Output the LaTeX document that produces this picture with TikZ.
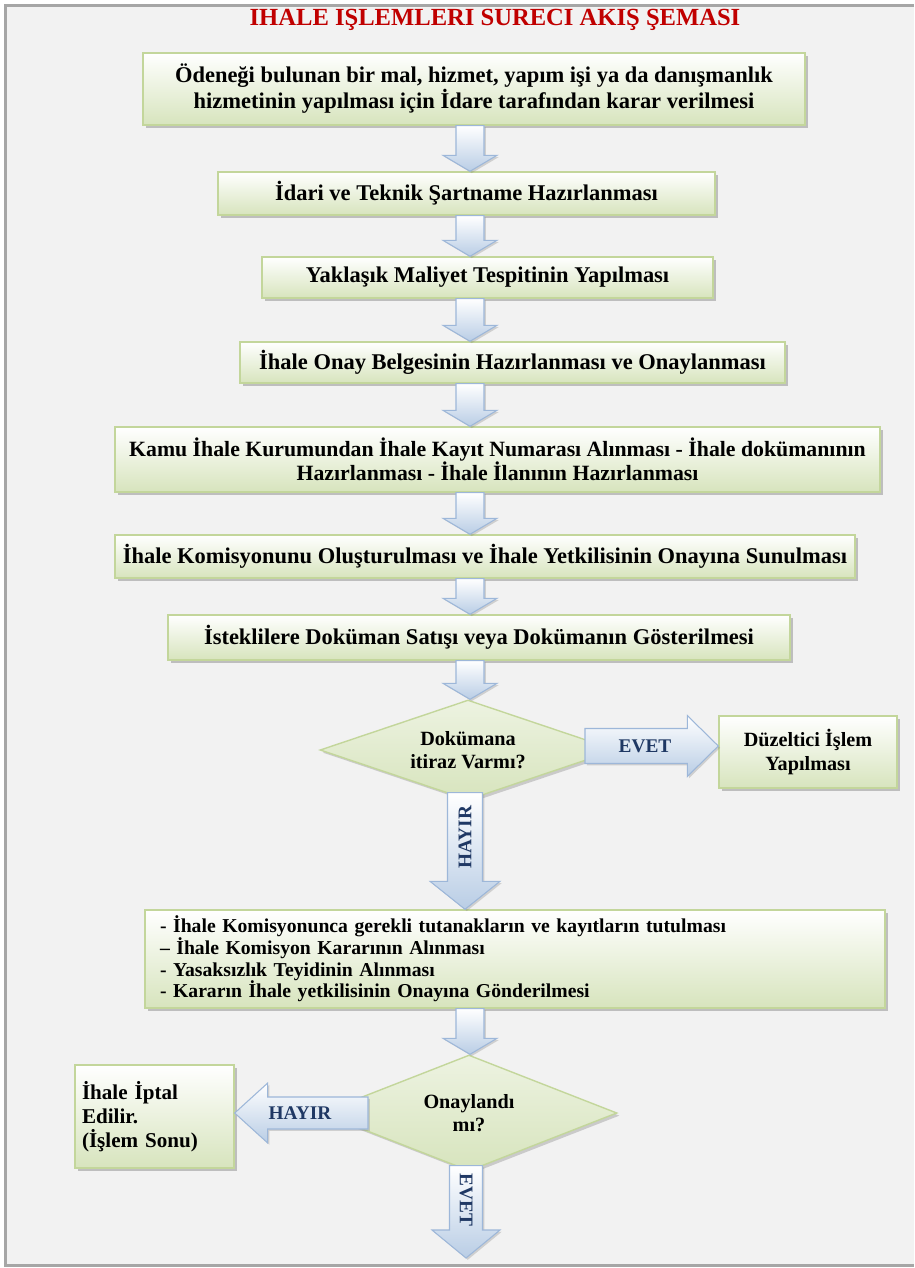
\documentclass[tikz,border=0pt]{standalone}
\usepackage{fontspec}
\setmainfont{Liberation Serif}
\usepackage{tikz}
\usepackage{color}
\usetikzlibrary{calc,shapes.geometric,shadows}

\definecolor{pagegray}{HTML}{F2F2F2}
\definecolor{framegray}{HTML}{A6A6A6}
\definecolor{boxgreen}{HTML}{D7E4BD}
\definecolor{boxline}{HTML}{C3D69B}
\definecolor{arrowblue}{HTML}{B9CDE5}
\definecolor{arrowline}{HTML}{9DB7D9}
\definecolor{titlered}{HTML}{C00000}
\definecolor{labelblue}{HTML}{1F3864}

\newcommand{\px}{0.02cm}
% block arrow downwards: tail, tip, body half width, head half width, head length
\newcommand{\tikzBlockDown}[5]{
  \path[blockarrow] ($(#1)+(-#3,0)$) -- ($(#2)+(-#3,#5)$) -- ($(#2)+(-#4,#5)$) -- (#2)
    -- ($(#2)+(#4,#5)$) -- ($(#2)+(#3,#5)$) -- ($(#1)+(#3,0)$) -- cycle;
}
% block arrow sideways: tail, tip, body half height, head half height, head length (negative = to the right)
\newcommand{\tikzBlockSide}[5]{
  \path[blockarrow] ($(#1)+(0,#3)$) -- ($(#2)+(#5,#3)$) -- ($(#2)+(#5,#4)$) -- (#2)
    -- ($(#2)+(#5,-#4)$) -- ($(#2)+(#5,-#3)$) -- ($(#1)+(0,-#3)$) -- cycle;
}

\begin{document}
\begin{tikzpicture}[x=\px, y=\px,
  proc/.style={rectangle, draw=boxline, line width=0.8pt, top color=white, bottom color=boxgreen,
    drop shadow={shadow xshift=1.5pt, shadow yshift=-1.5pt, opacity=0.45},
    font=\bfseries\fontsize{12.8}{13.5}\selectfont, align=center, inner sep=0pt},
  decision/.style={diamond, draw=boxline, line width=0.8pt, top color=boxgreen!45, bottom color=boxgreen,
    drop shadow={shadow xshift=1.5pt, shadow yshift=-1.5pt, opacity=0.35},
    font=\bfseries\fontsize{11.5}{13.5}\selectfont, align=center, inner sep=0pt, shape aspect=3},
  blockarrow/.style={draw=arrowline, line width=0.6pt, top color=white, bottom color=arrowblue,
    drop shadow={shadow xshift=1pt, shadow yshift=-1pt, opacity=0.3}},
  arrowtext/.style={font=\bfseries\fontsize{11}{12}\selectfont, text=labelblue, inner sep=0pt}]
  \useasboundingbox (0,0) rectangle (914,-1268);
  \fill[white] (0,0) rectangle (914,-1268);
  \fill[pagegray] (5,-5) rectangle (914,-1265);
  \draw[framegray, line width=3*\px] (914,-5) -- (5,-5) -- (5,-1265) -- (914,-1265);

  \node[font=\bfseries\fontsize{14}{16}\selectfont, text=titlered] (title) at (495,-20) {IHALE IŞLEMLERI SURECI AKIŞ ŞEMASI};
  \coordinate (spine) at (470,0);

  %main steps
  \node[proc, minimum width=662*\px, minimum height=72*\px] (b1) at (474,-89) {Ödeneği bulunan bir mal, hizmet, yapım işi ya da danışmanlık\\hizmetinin yapılması için İdare tarafından karar verilmesi};
  \node[proc, minimum width=497*\px, minimum height=43*\px] (b2) at (466.5,-193.5) {İdari ve Teknik Şartname Hazırlanması};
  \node[proc, minimum width=451*\px, minimum height=41*\px] (b3) at (487.5,-277.5) {Yaklaşık Maliyet Tespitinin Yapılması};
  \node[proc, minimum width=545*\px, minimum height=41*\px] (b4) at (512.5,-362.5) {İhale Onay Belgesinin Hazırlanması ve Onaylanması};
  \node[proc, minimum width=765*\px, minimum height=65*\px, font=\bfseries\fontsize{12.4}{13.5}\selectfont] (b5) at (497.5,-459.5) {Kamu İhale Kurumundan İhale Kayıt Numarası Alınması - İhale dokümanının\\Hazırlanması - İhale İlanının Hazırlanması};
  \node[proc, minimum width=740*\px, minimum height=43*\px] (b6) at (485,-556.5) {İhale Komisyonunu Oluşturulması ve İhale Yetkilisinin Onayına Sunulması};
  \node[proc, minimum width=622*\px, minimum height=45*\px] (b7) at (479,-637.5) {İsteklilere Doküman Satışı veya Dokümanın Gösterilmesi};

  %first question
  \node[decision, minimum width=296*\px, minimum height=100*\px] (dec1) at (468,-750) {Dokümana\\itiraz Varmı?};
  \node[proc, minimum width=178*\px, minimum height=72*\px, font=\bfseries\fontsize{11.5}{13.5}\selectfont] (duz) at (808,-752) {Düzeltici İşlem\\Yapılması};
  \node[proc, align=left, text width=710*\px, inner xsep=15*\px, minimum height=98*\px,
    font=\bfseries\fontsize{11.2}{12.3}\selectfont] (b8) at (515,-959)
    {- İhale Komisyonunca gerekli tutanakların ve kayıtların tutulması\\
     – İhale Komisyon Kararının Alınması\\
     - Yasaksızlık Teyidinin Alınması\\
     - Kararın İhale yetkilisinin Onayına Gönderilmesi};

  %second question
  \node[decision, minimum width=296*\px, minimum height=116*\px] (dec2) at (469,-1113) {Onaylandı\\mı?};
  \node[proc, align=left, text width=145*\px, inner xsep=7*\px, minimum height=103*\px,
    font=\bfseries\fontsize{12}{13.5}\selectfont] (iptal) at (154.5,-1116.5) {İhale İptal\\Edilir.\\(İşlem Sonu)};
  \coordinate (son) at (466,-1258);

  \tikzBlockDown{b1.south -| spine}{b2.north -| spine}{14}{27}{16}
  \tikzBlockDown{b2.south -| spine}{b3.north -| spine}{14}{27}{16}
  \tikzBlockDown{b3.south -| spine}{b4.north -| spine}{14}{27}{16}
  \tikzBlockDown{b4.south -| spine}{b5.north -| spine}{14}{27}{16}
  \tikzBlockDown{b5.south -| spine}{b6.north -| spine}{14}{27}{16}
  \tikzBlockDown{b6.south -| spine}{b7.north -| spine}{14}{27}{16}
  \tikzBlockDown{b7.south -| spine}{dec1.north -| spine}{14}{27}{16}
  \tikzBlockDown{b8.south -| spine}{dec2.north -| spine}{14}{27}{16}

  \tikzBlockSide{$(dec1.center)+(117,4)$}{$(dec1.center -| duz.west)+(0,4)$}{17.5}{30.5}{-31}
  \node[arrowtext] (evet1) at (645,-746) {EVET};

  \coordinate (hayirx) at ($(dec1.south)+(-3,0)$);
  \tikzBlockDown{$(hayirx)+(0,8)$}{hayirx |- b8.north}{17.5}{35}{28}
  \node[arrowtext, rotate=90] (hayir1) at (465,-837) {HAYIR};

  \tikzBlockSide{$(dec2.center)+(-101,0)$}{dec2.center -| iptal.east}{16}{30}{33}
  \node[arrowtext] (hayir2) at (300,-1113) {HAYIR};

  \tikzBlockDown{$(dec2.south)+(-3,6)$}{son}{16.5}{34}{28}
  \node[arrowtext, rotate=-90] (evet2) at (466,-1200) {EVET};
\end{tikzpicture}
\end{document}
